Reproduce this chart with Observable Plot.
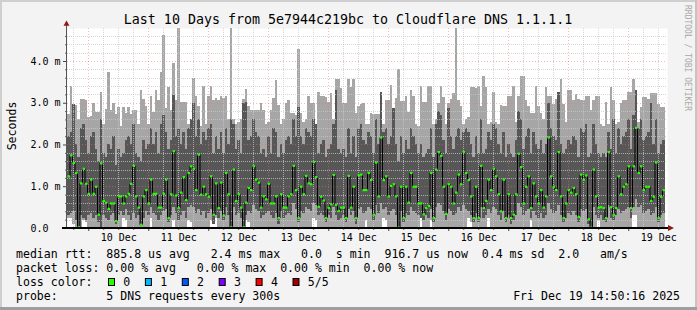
<!DOCTYPE html>
<html><head><meta charset="utf-8">
<script src="https://cdn.jsdelivr.net/npm/d3@7"></script>
<script src="https://cdn.jsdelivr.net/npm/@observablehq/plot@0.6"></script>
<style>
html,body{margin:0;padding:0;background:#f3f3f3;}
#chart{width:697px;height:310px;overflow:hidden;}
svg text{font-family:"DejaVu Sans Mono",monospace;}
</style></head><body><div id="chart"></div>
<script>
const title = "Last 10 Days from 5e7944c219bc to Cloudflare DNS 1.1.1.1";
const yLabel = "Seconds";
const watermark = "RRDTOOL / TOBI OETIKER";
const startTime = "2025-12-09T15:30:00Z";
const hoursShown = 240;
const yMax = 4.79;
const dayLabels = ["10 Dec","11 Dec","12 Dec","13 Dec","14 Dec","15 Dec","16 Dec","17 Dec","18 Dec","19 Dec"];
const yTickValues = [0, 1, 2, 3, 4];
const yTickLabels = ["0.0\u00a0\u00a0", "1.0 m", "2.0 m", "3.0 m", "4.0 m"];

// hourly columns, values in ms
const medianRtt = [
1.25,1.75,1.57,1.33,0.03,1.08,1.43,1.07,0.83,1.17,
0.83,1.0,0.33,1.56,0.66,0.62,0.47,0.6,0.6,0.18,
0.77,0.77,0.6,0.77,0.83,1.07,1.5,0.77,0.5,0.09,
0.77,0.92,0.6,1.17,0.83,0.83,0.5,0.5,0.83,1.17,
0.25,0.82,1.85,0.79,0.49,0.86,1.23,0.68,1.33,1.49,
1.43,0.92,1.77,0.81,1.0,0.82,0.76,1.25,0.33,1.08,
0.49,1.1,0.31,1.33,0.82,0.03,1.41,0.66,0.82,0.5,
0.03,0.62,0.97,0.92,1.49,1.17,1.1,0.5,0.77,0.7,
1.07,0.6,0.6,0.77,0.25,0.82,0.5,0.5,0.77,0.82,
1.5,0.92,0.25,1.0,0.82,1.26,1.08,1.06,1.59,1.23,
0.52,0.76,0.67,0.25,0.49,0.58,1.28,0.57,0.42,0.5,
0.5,0.25,1.26,0.5,1.0,0.25,1.27,1.29,0.92,0.92,
1.33,1.16,0.33,1.58,0.77,2.18,1.16,1.25,0.77,1.02,
1.06,0.77,0.02,1.0,0.25,1.0,0.62,1.33,1.0,1.0,
0.6,0.6,0.34,0.49,0.54,1.33,0.25,1.41,1.83,1.74,
1.0,0.35,1.06,1.0,0.6,0.86,1.29,1.06,1.83,1.33,
1.16,0.77,0.25,1.0,0.25,1.5,0.49,0.66,1.17,0.92,
1.43,1.25,0.82,0.41,1.17,0.25,0.82,0.25,0.33,0.82,
1.79,1.47,0.6,1.0,1.25,0.49,1.08,0.77,0.6,0.92,
0.5,0.77,2.18,1.25,1.0,0.92,1.83,0.77,0.25,0.6,
0.92,0.86,0.97,0.82,0.28,1.29,1.17,1.27,0.22,0.02,
1.41,0.77,0.5,0.51,0.49,0.25,1.83,0.51,0.33,0.49,
1.25,0.82,1.0,1.06,1.49,0.49,1.49,2.41,1.33,1.49,
0.92,1.0,1.0,0.66,0.76,1.58,0.25,0.76,0.92];

const pingMin = [
0.25,0.25,0.1,0,0,0,0.2,0.15,0,0,
0,0,0,0,0,0,0,0,0,0,
0,0,0.25,0.2,0,0,0,0,0,0,
0,0,0,0.25,0,0,0,0,0,0,
0,0,0.2,0,0,0,0,0,0.2,0.15,
0,0,0,0,0,0,0,0.2,0.1,0.25,
0,0,0,0,0,0,0,0,0,0,
0,0.2,0.15,0,0,0,0,0,0,0,
0,0,0,0,0,0,0,0,0,0,
0,0,0,0,0,0,0,0,0.25,0.2,
0,0,0,0,0,0,0,0,0,0,
0,0,0,0,0,0,0,0,0,0.2,
0,0,0,0,0,0,0.25,0.2,0,0,
0,0,0,0,0,0,0,0,0,0,
0,0.25,0,0,0,0.2,0,0,0,0,
0,0,0,0,0,0,0,0,0,0,
0.25,0.15,0,0,0,0,0,0,0.25,0,
0,0,0,0,0,0,0,0,0,0,
0,0,0,0,0,0.2,0,0,0,0,
0,0,0,0,0,0,0,0,0,0,
0,0,0,0,0,0,0,0,0,0,
0,0,0.2,0,0,0,0,0,0,0,
0,0,0,0,0,0,0.3,0.3,0,0,
0,0,0,0,0,0,0,0,0];

const pingLow = [
0.3,0.35,0.4,0.2,0.0,0.3,0.25,0.2,0.3,0.35,
0.25,0.3,0.15,0.0,0.3,0.25,0.2,0.3,0.35,0.1,
0.3,0.4,0.3,0.45,0.3,0.2,0.35,0.25,0.3,0.05,
0.25,0.4,0.3,0.5,0.35,0.3,0.2,0.3,0.4,0.45,
0.15,0.3,0.5,0.35,0.2,0.3,0.4,0.25,0.5,0.55,
0.5,0.35,0.45,0.3,0.4,0.25,0.35,0.45,0.1,0.3,
0.25,0.4,0.2,0.5,0.3,0.0,0.5,0.3,0.35,0.25,
0.0,0.3,0.4,0.35,0.55,0.45,0.4,0.25,0.3,0.35,
0.4,0.3,0.25,0.35,0.1,0.4,0.25,0.3,0.35,0.3,
0.6,0.45,0.15,0.4,0.35,0.5,0.45,0.4,0.6,0.55,
0.3,0.35,0.3,0.15,0.3,0.25,0.5,0.3,0.2,0.25,
0.3,0.15,0.45,0.3,0.4,0.1,0.45,0.5,0.35,0.4,
0.5,0.45,0.2,0.55,0.35,0.6,0.45,0.5,0.3,0.4,
0.45,0.3,0.0,0.4,0.15,0.35,0.3,0.5,0.4,0.35,
0.3,0.25,0.2,0.3,0.25,0.45,0.15,0.5,0.6,0.55,
0.4,0.2,0.45,0.4,0.3,0.35,0.5,0.4,0.55,0.45,
0.4,0.3,0.15,0.35,0.15,0.5,0.25,0.3,0.45,0.35,
0.5,0.45,0.3,0.2,0.4,0.15,0.3,0.1,0.2,0.3,
0.6,0.5,0.3,0.4,0.45,0.25,0.4,0.3,0.25,0.35,
0.25,0.3,0.6,0.45,0.35,0.4,0.55,0.3,0.15,0.25,
0.35,0.3,0.4,0.3,0.15,0.45,0.4,0.45,0.1,0.0,
0.5,0.3,0.25,0.3,0.2,0.15,0.55,0.25,0.2,0.3,
0.45,0.35,0.4,0.45,0.5,0.25,0.5,0.7,0.5,0.55,
0.35,0.4,0.45,0.3,0.35,0.5,0.15,0.3,0.35];

const pingHigh = [
2.2,2.3,2.98,2.0,1.7,2.4,2.5,2.1,1.8,2.2,
2.3,1.9,1.6,2.6,1.8,1.7,2.0,1.9,2.2,1.5,
1.9,1.7,1.8,2.1,2.2,2.0,2.5,1.8,1.7,1.6,
2.1,1.9,2.0,2.4,2.0,2.3,1.8,2.5,2.7,2.3,
1.9,2.1,3.19,2.2,2.4,2.0,2.3,1.9,2.4,2.6,
3.0,2.2,2.6,2.0,2.3,2.1,2.4,2.5,1.8,2.2,
1.9,2.3,1.8,2.4,2.0,2.6,2.5,1.9,2.1,1.8,
3.0,3.02,2.1,2.2,2.6,2.3,2.2,1.8,1.9,1.7,
2.2,1.8,2.4,2.3,1.7,2.0,1.8,2.1,2.2,2.0,
2.6,2.2,2.9,2.2,2.0,2.4,2.3,2.2,2.6,2.5,
1.8,2.0,2.1,1.7,1.9,2.0,2.5,3.31,1.9,1.8,
1.9,1.7,2.4,1.8,2.2,1.7,2.4,2.5,2.1,2.0,
2.3,2.2,1.8,2.6,2.0,3.25,2.3,2.4,2.0,2.2,
2.87,2.0,1.6,2.2,1.8,2.1,1.9,2.4,2.2,2.0,
1.8,2.0,1.7,1.8,1.9,2.4,1.7,2.5,2.8,2.7,
2.1,1.8,2.87,2.2,1.9,2.2,2.4,2.1,2.3,2.4,
2.3,2.0,1.7,2.2,1.8,2.6,1.8,1.9,2.3,2.1,
2.5,2.4,2.0,1.8,2.3,1.7,2.0,1.8,1.7,2.1,
2.8,2.6,1.9,2.2,2.4,1.8,2.3,2.0,1.9,2.1,
1.8,2.0,3.0,2.4,2.2,2.1,3.25,2.0,1.8,1.9,
2.1,2.0,2.2,2.1,1.7,2.4,2.3,2.5,1.7,1.8,
2.5,2.0,1.8,1.7,1.8,1.7,2.3,1.9,2.6,1.8,
2.4,2.0,2.2,2.3,2.6,1.9,2.7,3.31,2.4,2.6,
2.1,2.2,2.3,3.0,2.0,2.6,1.8,2.0,2.1];

const pingMax = [
2.74,3.41,2.98,2.95,2.6,3.09,3.09,3.06,2.67,2.69,
3.0,2.77,2.77,3.25,2.5,2.86,3.73,2.83,3.0,2.74,
2.9,2.45,2.9,2.75,2.9,2.74,2.82,2.82,2.5,3.31,
3.09,2.91,2.5,3.15,2.77,3.31,3.07,3.73,4.63,2.87,
3.38,2.83,3.94,3.06,4.79,3.01,3.01,3.01,2.5,2.6,
3.59,3.15,2.93,2.45,3.41,2.5,3.15,3.41,3.07,3.11,
3.07,3.15,3.11,3.15,2.6,4.79,2.62,2.5,2.55,2.6,
3.09,3.33,2.91,2.83,2.83,2.83,2.83,3.0,2.83,2.5,
2.55,2.83,3.11,3.55,2.95,2.5,2.6,3.0,3.07,2.75,
2.75,2.71,4.29,2.75,2.55,2.6,3.15,3.0,3.0,2.5,
3.25,3.15,3.15,3.13,3.01,3.24,2.6,3.57,3.57,3.36,
3.0,3.0,3.57,3.38,3.57,2.75,2.93,2.98,3.0,2.5,
2.5,2.75,2.73,2.73,2.73,3.25,2.5,3.07,3.07,3.43,
2.87,3.11,3.81,3.03,3.03,3.15,2.79,3.31,3.15,2.5,
2.45,3.41,3.01,3.01,3.41,3.41,2.5,2.6,3.0,3.41,
3.13,2.5,3.0,3.09,3.24,4.79,3.07,2.93,2.5,2.6,
2.65,3.38,3.38,3.36,3.41,2.91,3.65,3.38,2.5,2.55,
3.25,2.55,2.5,2.95,2.93,2.93,3.17,3.17,3.41,2.55,
3.17,3.65,3.65,3.07,2.91,2.75,2.75,3.41,2.91,2.75,
2.6,3.38,3.15,3.15,2.98,3.09,3.25,3.58,2.98,2.55,
3.31,3.31,3.07,3.2,3.09,3.07,3.07,3.15,3.15,2.83,
3.07,3.15,3.15,2.5,2.45,3.01,2.5,3.38,3.07,2.5,
2.55,3.0,3.07,3.07,3.25,3.25,3.57,3.31,2.55,2.9,
3.13,3.13,3.09,3.24,3.24,3.24,2.98,2.9,2.9];

const lossLabels = ["0", "1", "2", "3", "4", "5/5"];
const lossColors = ["#26ff00", "#00b8ff", "#0059ff", "#7e00ff", "#ff0000", "#a00000"];
const legendRows = [
  "median rtt:  885.8 us avg   2.4 ms max   0.0  s min  916.7 us now  0.4 ms sd  2.0   am/s",
  "packet loss: 0.00 % avg   0.00 % max  0.00 % min  0.00 % now",
  "loss color:",
  "probe:       5 DNS requests every 300s"
];
const timestamp = "Fri Dec 19 14:50:16 2025";

// ---- build tables
const HOUR = 3600e3;
const t0 = new Date(startTime).getTime();
const tEnd = new Date(t0 + hoursShown * HOUR);
const n = Math.min(medianRtt.length, pingMin.length, pingLow.length, pingHigh.length, pingMax.length);
const rows = d3.range(n).map(i => ({
  a: new Date(t0 + i * HOUR), b: new Date(t0 + (i + 1) * HOUR),
  p1: pingMin[i], p2: pingLow[i], p4: pingHigh[i], p5: pingMax[i], med: medianRtt[i]
}));
const steps = rows.slice(1).map((r, k) => ({t: r.a, from: rows[k].med, to: r.med}));

const midnights = d3.utcDay.range(new Date(t0), tEnd);
const minorX = d3.utcHour.every(6).range(new Date(t0), tEnd).filter(d => d.getUTCHours() !== 0);
const dayTicks = dayLabels.map((label, k) => ({label, date: d3.utcHour.offset(midnights[0], 24 * k + 12)}));
const minorY = d3.range(1, Math.floor(yMax / 0.2) + 1).map(k => +(k * 0.2).toFixed(1)).filter(v => Math.abs(v - Math.round(v)) > 1e-6);

const chart = Plot.plot({
  width: 697, height: 310,
  marginLeft: 67, marginRight: 30, marginTop: 28, marginBottom: 82,
  style: {background: "#f3f3f3", fontFamily: "DejaVu Sans Mono", fontSize: "10px", color: "#000", overflow: "visible"},
  x: {type: "utc", domain: [new Date(t0), tEnd], axis: null},
  y: {domain: [0, yMax], axis: null},
  marks: [
    Plot.frame({fill: "#ffffff", stroke: "none"}),
    Plot.rect(rows, {x1: "a", x2: "b", y1: "p1", y2: "p5", fill: "#a6a6a6", inset: 0, shapeRendering: "crispEdges", clip: true}),
    Plot.rect(rows, {x1: "a", x2: "b", y1: "p2", y2: "p4", fill: "#575757", inset: 0, shapeRendering: "crispEdges", clip: true}),
    Plot.ruleY(minorY, {stroke: "#c8c8c8", strokeOpacity: 0.75, strokeDasharray: "1,1", shapeRendering: "crispEdges"}),
    Plot.ruleX(minorX, {stroke: "#c8c8c8", strokeOpacity: 0.75, strokeDasharray: "1,1", shapeRendering: "crispEdges"}),
    Plot.ruleY(yTickValues.filter(v => v > 0), {stroke: "#ee7070", strokeOpacity: 0.5, strokeDasharray: "1,2", shapeRendering: "crispEdges"}),
    Plot.ruleX(midnights, {stroke: "#ee7070", strokeOpacity: 0.5, strokeDasharray: "1,2", shapeRendering: "crispEdges"}),
    Plot.link(steps, {x1: "t", x2: "t", y1: "from", y2: "to", stroke: "#000000", strokeWidth: 1}),
    Plot.link(rows, {x1: "a", x2: "b", y1: "med", y2: "med", stroke: "#26ff00", strokeWidth: 2.2}),
    Plot.axisY(yTickValues, {tickSize: 4, tickPadding: 3, label: null, stroke: "#444",
      tickFormat: d => yTickLabels[yTickValues.indexOf(d)], fontSize: 10}),
    Plot.axisY(minorY, {tickSize: 2, label: null, stroke: "#666", tickFormat: () => ""}),
    Plot.axisX(midnights, {tickSize: 3, label: null, stroke: "#444", tickFormat: () => ""}),
    Plot.axisX(minorX, {tickSize: 2, label: null, stroke: "#666", tickFormat: () => ""}),
    Plot.text(dayTicks, {x: "date", text: "label", frameAnchor: "bottom", dy: 9.7, lineAnchor: "middle", fontSize: 10, fill: "#000"})
  ]
});
document.getElementById("chart").appendChild(chart);

// ---- decorations drawn from the plot's scales
const svg = d3.select(chart);
const X = chart.scale("x"), Y = chart.scale("y");
const xl = X.range[0], xr = X.range[1], yb = Y.range[0], yt = Y.range[1];
const W = 697, H = 310;

// frame shading
svg.append("rect").attr("x", 0).attr("y", 0).attr("width", W).attr("height", 2).attr("fill", "#cfcfcf");
svg.append("rect").attr("x", 0).attr("y", 0).attr("width", 2).attr("height", H).attr("fill", "#cfcfcf");
svg.append("rect").attr("x", W - 2).attr("y", 0).attr("width", 2).attr("height", H).attr("fill", "#c4c4c4");
svg.append("rect").attr("x", 0).attr("y", H - 3).attr("width", W).attr("height", 3).attr("fill", "#9e9e9e");

// axes lines + arrows
svg.append("line").attr("x1", xl - 0.5).attr("x2", xl - 0.5).attr("y1", yb).attr("y2", yt - 3)
  .attr("stroke", "#555").attr("stroke-width", 1);
svg.append("path").attr("d", `M${xl - 3.5},${yt - 2.3}L${xl + 2.5},${yt - 2.3}L${xl - 0.5},${yt - 7.5}Z`).attr("fill", "#8e1b1b");
svg.append("line").attr("x1", xl - 5).attr("x2", xr + 2).attr("y1", yb).attr("y2", yb)
  .attr("stroke", "#000").attr("stroke-width", 2);
svg.append("path").attr("d", `M${xr + 1},${yb - 3}L${xr + 1},${yb + 3}L${xr + 7},${yb}Z`).attr("fill", "#8e1b1b");

function addText(x, y, str, o = {}) {
  const t = svg.append("text").attr("x", x).attr("y", y)
    .attr("font-family", "DejaVu Sans Mono").attr("font-size", o.size || 11.55)
    .attr("text-anchor", o.anchor || "start").attr("fill", o.fill || "#000")
    .attr("xml:space", "preserve").style("white-space", "pre").text(str);
  if (o.transform) t.attr("transform", o.transform).attr("x", 0).attr("y", 0);
  return t;
}

addText(348, 23.8, title, {size: 13.3, anchor: "middle"});
addText(0, 0, yLabel, {anchor: "middle", transform: "translate(15.5,126) rotate(-90)"});
addText(0, 0, watermark, {size: 8, fill: "#a8a8a8", transform: "translate(685,5) rotate(90)"});

const rowY = [257.5, 271.5, 285.5, 299.5];
legendRows.forEach((s, i) => addText(16, rowY[i], s));
lossLabels.forEach((lab, i) => {
  const bx = 108.5 + 36.9 * i;
  svg.append("rect").attr("x", bx).attr("y", 278.5).attr("width", 6).attr("height", 7)
    .attr("fill", lossColors[i]).attr("stroke", "#000").attr("stroke-width", 1);
  addText(bx + 14.8, rowY[2], lab);
});
addText(680, rowY[3], timestamp, {anchor: "end"});
</script></body></html>
